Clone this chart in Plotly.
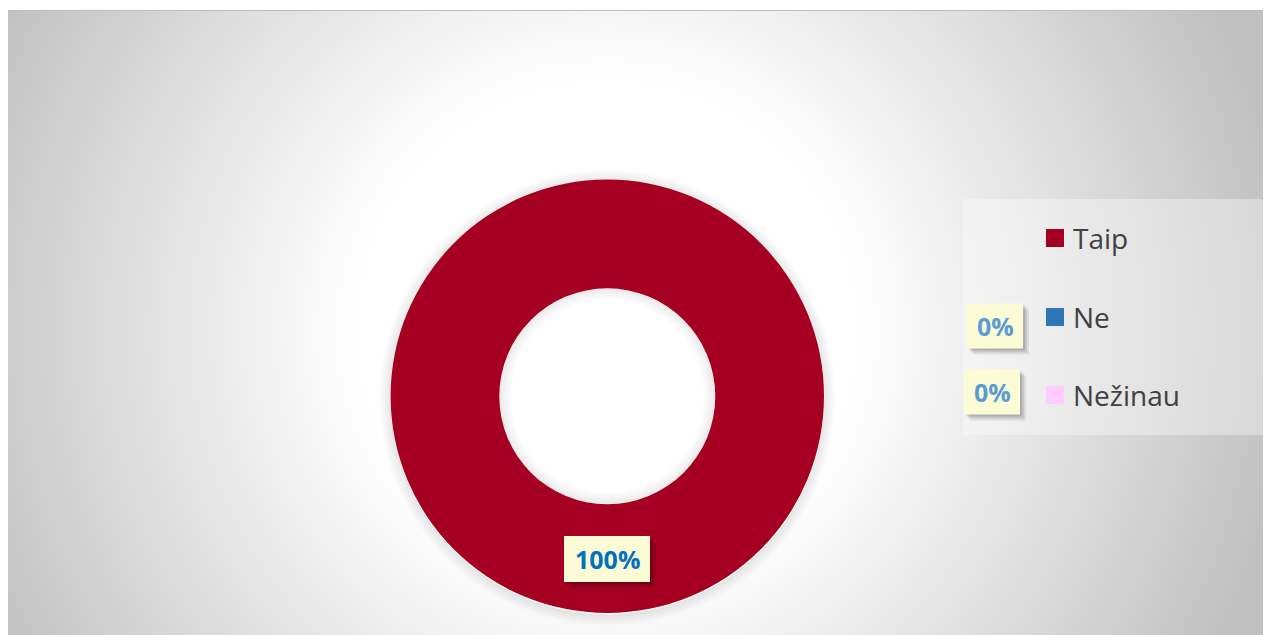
import base64
import plotly.graph_objects as go

# data
labels = ["Taip", "Ne", "Nežinau"]
values = [100, 0, 0]
colors = ["#A50021", "#2E75B6", "#FFCCFF"]

# page has an 8px body margin, so the figure is 8px smaller and coords shift by 8
OFF = 8
W, H = 1271 - OFF, 635 - OFF


def px(x):
    return (x - OFF) / W


def py(y):
    return 1 - (y - OFF) / H


# radial gradient background, like the Excel chart area
svg = f"""<svg xmlns='http://www.w3.org/2000/svg' width='1264' height='625' viewBox='0 0 1264 625'>
<defs><radialGradient id='g' gradientUnits='userSpaceOnUse' cx='600' cy='320' r='690'>
<stop offset='0' stop-color='#ffffff'/><stop offset='0.36' stop-color='#ffffff'/>
<stop offset='1' stop-color='#c0c0c0'/></radialGradient></defs>
<rect width='1264' height='625' fill='url(#g)'/>
<line x1='0' y1='0.5' x2='1264' y2='0.5' stroke='#bdbdbd' stroke-width='1'/>
</svg>"""
bg_src = "data:image/svg+xml;base64," + base64.b64encode(svg.encode()).decode()

cx, cy, r, r_in = 607.3, 396.3, 216.7, 108

fig = go.Figure()
fig.add_trace(go.Pie(
    labels=labels,
    values=values,
    hole=r_in / r,
    sort=False,
    direction="clockwise",
    rotation=90,
    marker=dict(colors=colors, line=dict(width=0)),
    textinfo="none",
    showlegend=False,
    domain=dict(x=[px(cx - r), px(cx + r)], y=[py(cy + r), py(cy - r)]),
))


def circle(rad, dy=0, **kw):
    return dict(type="circle", xref="paper", yref="paper", layer="below",
                x0=px(cx - rad), x1=px(cx + rad),
                y0=py(cy + dy + rad), y1=py(cy + dy - rad), **kw)


shapes = []
# soft glow/shadow around the ring and inside the hole
for d in range(1, 12, 2):
    a = 0.10 * (1 - d / 12)
    shapes.append(circle(r + d, dy=1.5, line=dict(width=2, color=f"rgba(0,0,0,{a:.3f})")))
shapes.append(circle(r_in, fillcolor="white", line=dict(width=0)))
for d in range(1, 12, 2):
    a = 0.09 * (1 - d / 12)
    shapes.append(circle(r_in - d, line=dict(width=2, color=f"rgba(0,0,0,{a:.3f})")))

# legend box (drawn by hand so spacing matches)
shapes.append(dict(type="rect", xref="paper", yref="paper", layer="below",
                   x0=px(963), x1=px(1263), y0=py(435), y1=py(199),
                   fillcolor="rgba(255,255,255,0.35)", line=dict(width=0)))
annotations = []
leg_y = [238, 317, 395]
for lab, col, ly in zip(labels, colors, leg_y):
    shapes.append(dict(type="rect", xref="paper", yref="paper",
                       x0=px(1046), x1=px(1064), y0=py(ly + 9), y1=py(ly - 9),
                       fillcolor=col, line=dict(width=0)))
    annotations.append(dict(x=px(1071), y=py(ly), xref="paper", yref="paper",
                            text=lab, showarrow=False, xanchor="left", yanchor="middle",
                            font=dict(family="Open Sans", size=28, color="#404040")))

# data labels
total = sum(values)
label_boxes = [(607, 559, 86, 46, "#0070C0"), (995, 326, 56, 45, "#5B9BD5"),
               (992, 392, 56, 45, "#5B9BD5")]
for v, (bx, by, bw, bh, tc) in zip(values, label_boxes):
    for k, a in enumerate([0.12, 0.1, 0.08]):
        o = 2 + 2 * k
        shapes.append(dict(type="rect", xref="paper", yref="paper",
                           x0=px(bx - bw / 2 + o), x1=px(bx + bw / 2 + o),
                           y0=py(by + bh / 2 + o), y1=py(by - bh / 2 + o),
                           fillcolor=f"rgba(0,0,0,{a})", line=dict(width=0)))
    shapes.append(dict(type="rect", xref="paper", yref="paper",
                       x0=px(bx - bw / 2), x1=px(bx + bw / 2),
                       y0=py(by + bh / 2), y1=py(by - bh / 2),
                       fillcolor="#FBFBD6", line=dict(width=0)))
    annotations.append(dict(x=px(bx), y=py(by), xref="paper", yref="paper",
                            text=f"<b>{round(100 * v / total)}%</b>", showarrow=False,
                            xanchor="center", yanchor="middle",
                            font=dict(family="Open Sans", size=25, color=tc)))

fig.update_layout(
    width=W, height=H,
    margin=dict(l=0, r=0, t=0, b=0),
    paper_bgcolor="white",
    plot_bgcolor="rgba(0,0,0,0)",
    images=[dict(source=bg_src, xref="paper", yref="paper", x=px(7), y=py(10),
                 sizex=1264 / W, sizey=625 / H, sizing="stretch", layer="below",
                 xanchor="left", yanchor="top")],
    shapes=shapes,
    annotations=annotations,
)

fig.write_html("out.html")
